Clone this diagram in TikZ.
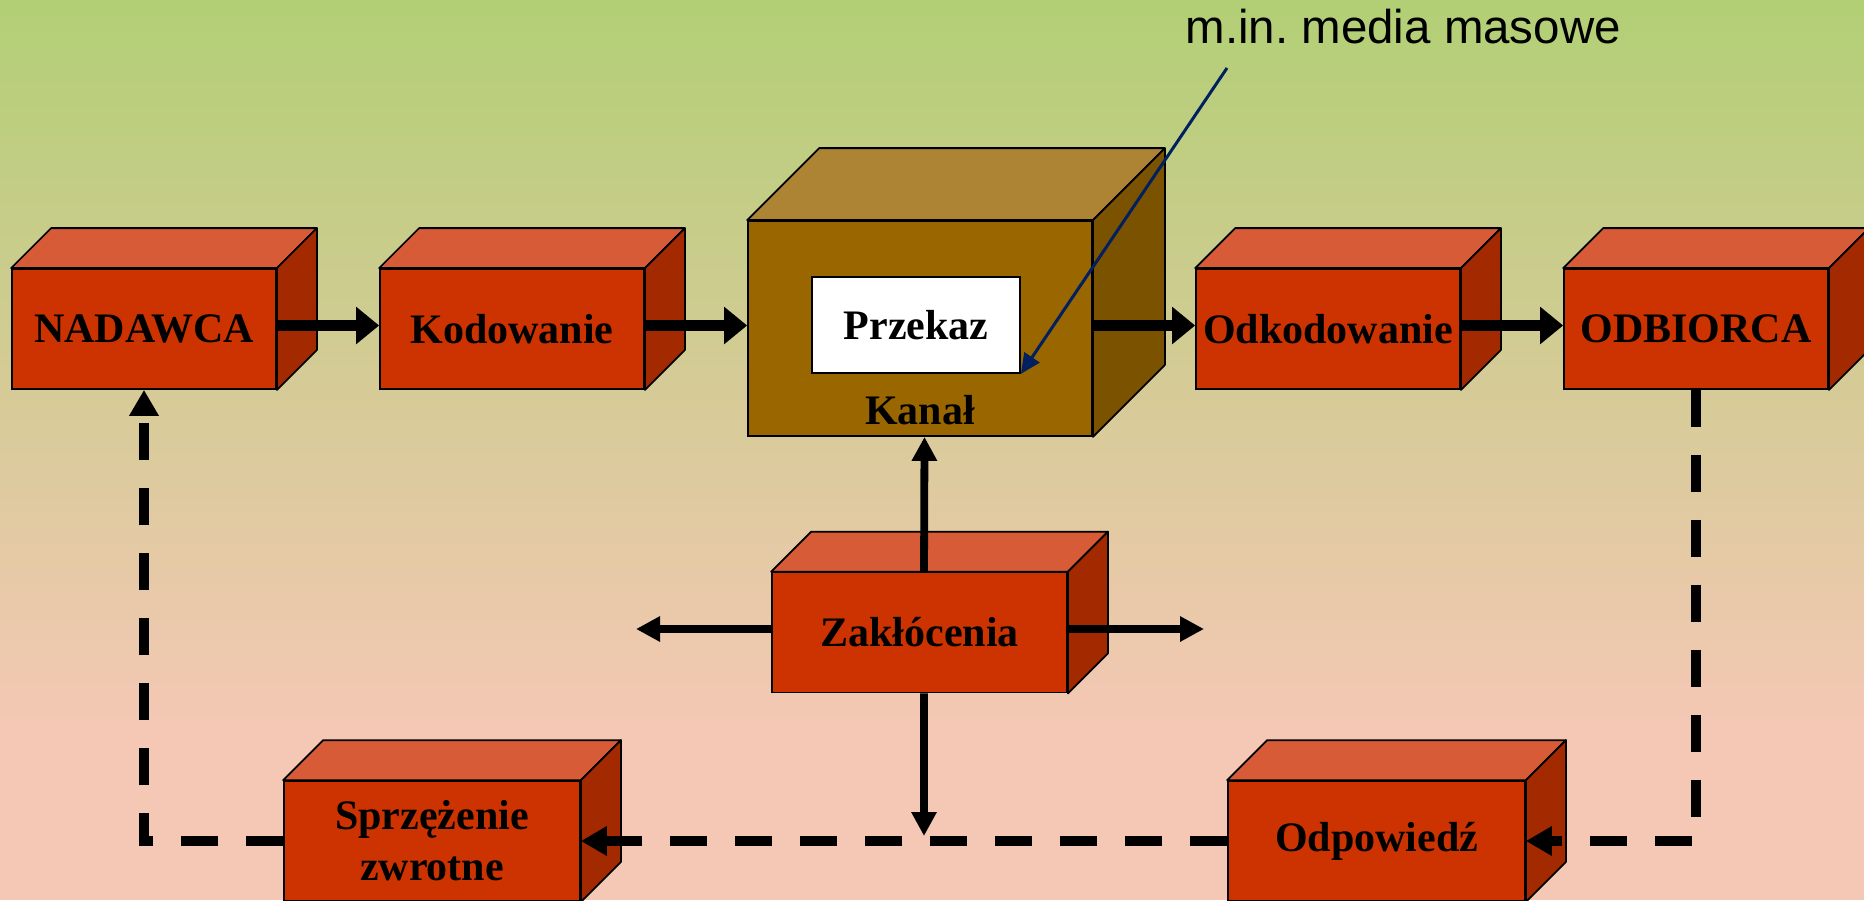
\documentclass[tikz,border=0pt]{standalone}
\usepackage{fontspec}
\setmainfont{Liberation Serif}
\newfontfamily\sansf{Liberation Sans}
\usetikzlibrary{arrows.meta,calc}
\frenchspacing
\definecolor{bgtop}{RGB}{178,207,117}
\definecolor{bgbot}{RGB}{244,200,180}
\definecolor{frontred}{RGB}{204,51,0}
\definecolor{topred}{RGB}{214,91,54}
\definecolor{sidered}{RGB}{163,41,0}
\definecolor{frontbrown}{RGB}{153,102,0}
\definecolor{topbrown}{RGB}{173,132,51}
\definecolor{sidebrown}{RGB}{122,82,0}
\definecolor{navyline}{RGB}{0,32,96}
\newcommand\cubefaces[4]{%
  \filldraw[fill=#3, line width=0.5pt, line join=round] (#1.north west) -- ++(#2,-#2) -- ($(#1.north east)+(#2,-#2)$) -- (#1.north east) -- cycle;
  \filldraw[fill=#4, line width=0.5pt, line join=round] (#1.north east) -- ++(#2,-#2) -- ($(#1.south east)+(#2,-#2)$) -- (#1.south east) -- cycle;
}
\begin{document}
\begin{tikzpicture}[x=0.1mm,y=-0.1mm,
  box/.style={draw=black, line width=0.5pt, fill=frontred, minimum width=26.4mm, minimum height=12mm,
    inner sep=0pt, font=\fontsize{11.95}{14.5}\selectfont\bfseries, align=center},
  bigarrow/.style={line width=1.1mm, -{Triangle[length=2.3mm, width=3.6mm]}},
  midarrow/.style={line width=0.78mm, -{Triangle[length=2.4mm, width=2.4mm]}},
  dasharrow/.style={line width=0.95mm, dash pattern=on 3.7mm off 2.8mm, -{Triangle[length=2.6mm, width=2.8mm]}}
]
\useasboundingbox (0,0) rectangle (1864,900);
\shade[top color=bgtop, bottom color=bgbot] (0,0) rectangle (1864,721);
\fill[bgbot] (0,720) rectangle (1864,900);

% nodes
\node[box] (nad) at (144,329) {NADAWCA};
\node[box] (kod) at (512,329) {Kodowanie};
\node[box, fill=frontbrown, minimum width=34.4mm, minimum height=21.5mm] (kanal) at (920,328.5) {};
\node[box] (odk) at (1328,329) {Odkodowanie};
\node[box] (odb) at (1696,329) {ODBIORCA};
\node[box, minimum width=29.5mm] (zak) at (919.5,632.5) {Zakłócenia};
\node[box, minimum width=29.6mm] (spr) at (432,841) {Sprzężenie\\zwrotne};
\node[box, minimum width=29.7mm] (odp) at (1376.5,841) {Odpowiedź};

\cubefaces{nad}{40}{topred}{sidered}
\cubefaces{kod}{40}{topred}{sidered}
\cubefaces{kanal}{72}{topbrown}{sidebrown}
\cubefaces{odk}{40}{topred}{sidered}
\cubefaces{odb}{40}{topred}{sidered}
\cubefaces{zak}{40}{topred}{sidered}
\cubefaces{spr}{40}{topred}{sidered}
\cubefaces{odp}{40}{topred}{sidered}

\node[box, fill=white, minimum width=20.8mm, minimum height=9.6mm] (prz) at (916,325) {Przekaz};
\node[font=\fontsize{11.95}{14.5}\selectfont\bfseries, inner sep=0pt] (kanallabel) at (920,410) {Kanał};

\node[anchor=base west, font=\sansf\fontsize{13.5}{16}\selectfont, inner sep=0pt] (media) at (1185,44) {m.in. media masowe};
\coordinate (mstart) at (1227,68);

\coordinate (zleft) at (636,629);
\coordinate (zright) at (1204,629);
\coordinate (zdown) at (924,836);

% connectors
\draw[bigarrow] ([yshift=0.35mm]nad.east) -- ([yshift=0.35mm]kod.west);
\draw[bigarrow] ([yshift=0.35mm]kod.east) -- ([yshift=0.35mm]kanal.west |- kod.east);
\draw[bigarrow] ([yshift=0.35mm]kanal.east |- odk.east) -- ([yshift=0.35mm]odk.west);
\draw[bigarrow] ([yshift=0.35mm]odk.east) -- ([yshift=0.35mm]odb.west);

\draw[midarrow] ([xshift=0.45mm]zak.north) -- ([xshift=0.45mm]kanal.south);
\draw[midarrow] ([yshift=0.35mm]zak.west) -- (zleft);
\draw[midarrow] ([yshift=0.35mm]zak.east) -- (zright);
\draw[midarrow] ([xshift=0.45mm]zak.south) -- (zdown);

\draw[dasharrow] (odb.south) |- (odp.east);
\draw[dasharrow] (odp.west) -- (spr.east);
\draw[dasharrow] (spr.west) -| (nad.south);

\draw[navyline, line width=0.3mm, -{Triangle[length=2mm, width=1.8mm]}] (mstart) -- (prz.south east);
\end{tikzpicture}
\end{document}
